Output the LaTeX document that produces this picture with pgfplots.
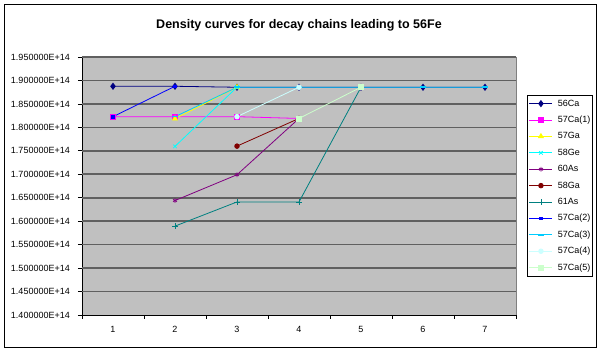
\documentclass[border=0pt]{standalone}
\usepackage{fontspec}
\setmainfont{Liberation Sans}
\usepackage{pgfplots}
\pgfplotsset{compat=1.18}
\definecolor{plotgray}{RGB}{192,192,192}
\definecolor{gridc}{RGB}{96,96,96}
\definecolor{cNavy}{RGB}{0,0,128}
\definecolor{cMag}{RGB}{255,0,255}
\definecolor{cYel}{RGB}{255,255,0}
\definecolor{cCyan}{RGB}{0,255,255}
\definecolor{cPurp}{RGB}{128,0,128}
\definecolor{cDRed}{RGB}{128,0,0}
\definecolor{cTeal}{RGB}{0,128,128}
\definecolor{cBlue}{RGB}{0,0,255}
\definecolor{cSky}{RGB}{0,204,255}
\definecolor{cPaleT}{RGB}{204,255,255}
\definecolor{cPaleG}{RGB}{204,255,204}
\begin{document}
\begin{tikzpicture}
\useasboundingbox (-82bp,-36bp) rectangle (518bp,315bp);
\begin{axis}[
  at={(0,0)}, anchor=south west,
  scale only axis, width=434bp, height=258bp,
  /pgf/number format/assume math mode=true,
  font=\fontsize{9bp}{10bp}\selectfont,
  xmin=0.5, xmax=7.5,
  ymin=1.40e14, ymax=1.95e14,
  scaled y ticks=false,
  axis background/.style={fill=plotgray},
  axis x line*=bottom, axis y line*=left,
  axis line style={black, line width=0.8bp},
  tick align=outside,
  major tick length=4bp,
  tick style={black, line width=0.8bp},
  xtick={1,2,3,4,5,6,7},
  xticklabels={1,2,3,4,5,6,7},
  major x tick style={draw=none},
  minor xtick={0.5,1.5,2.5,3.5,4.5,5.5,6.5,7.5},
  minor tick length=4bp,
  minor x tick style={black, line width=0.8bp},
  xticklabel style={anchor=base, inner sep=0pt, yshift=-13.2bp},
  ytick={1.40e14,1.45e14,1.50e14,1.55e14,1.60e14,1.65e14,1.70e14,1.75e14,1.80e14,1.85e14,1.90e14,1.95e14},
  yticklabels={1.400000E+14,1.450000E+14,1.500000E+14,1.550000E+14,1.600000E+14,1.650000E+14,1.700000E+14,1.750000E+14,1.800000E+14,1.850000E+14,1.900000E+14,1.950000E+14},
  yticklabel style={anchor=east, inner sep=0pt, xshift=-8bp},
  extra y ticks={1.45e14,1.50e14,1.55e14,1.60e14,1.65e14,1.70e14,1.75e14,1.80e14,1.85e14,1.90e14,1.95e14},
  extra y tick labels={},
  extra y tick style={tick align=inside, major tick length=434bp, tick style={gridc, line width=1.7bp}},
  clip=false,
  every axis title shift=0pt,
  title={Density curves for decay chains leading to 56Fe},
  title style={at={(0.5,1)}, anchor=center, yshift=31.8bp, font=\fontsize{12.5bp}{14bp}\selectfont\bfseries},
  every axis plot/.append style={line width=0.8bp, mark options={solid}},
  legend style={at={(1.025,0.853)}, anchor=north west, draw=black, fill=white,
    font=\fontsize{9bp}{10bp}\selectfont,
    inner xsep=2bp, inner ysep=4.5bp, row sep=8.4bp, /tikz/column sep=5bp,
    nodes={inner sep=0pt, text height=6.5bp, text depth=1.5bp}},
  legend cell align=left,
  legend image code/.code={\draw[mark repeat=2,mark phase=2] plot coordinates {(0bp,0bp)(11.5bp,0bp)(23bp,0bp)};},
]
% 56Ca
\addplot[cNavy, mark=diamond*, mark size=3bp] coordinates {(1,1.8876e14)(2,1.8876e14)(3,1.8855e14)(4,1.8855e14)(5,1.8855e14)(6,1.8855e14)(7,1.8855e14)};
\addlegendentry{56Ca}
% 57Ca(1)
\addplot[cMag, mark=square*, mark size=2.3bp] coordinates {(1,1.8228e14)(2,1.8228e14)(3,1.8228e14)(4,1.8190e14)};
\addlegendentry{57Ca(1)}
% 57Ga
\addplot[cYel, mark=triangle*, mark size=2.8bp] coordinates {(2,1.8185e14)(3,1.8855e14)};
\addlegendentry{57Ga}
% 58Ge
\addplot[cCyan, mark=x, mark size=2.5bp] coordinates {(2,1.7595e14)(3,1.8855e14)};
\addlegendentry{58Ge}
% 60As
\addplot[cPurp, mark=asterisk, mark size=2.3bp] coordinates {(2,1.6440e14)(3,1.6990e14)(4,1.8190e14)};
\addlegendentry{60As}
% 58Ga
\addplot[cDRed, mark=*, mark size=2.3bp] coordinates {(3,1.7600e14)(4,1.8190e14)};
\addlegendentry{58Ga}
% 61As
\addplot[cTeal, mark=+, mark size=2.8bp] coordinates {(2,1.5895e14)(3,1.6410e14)(4,1.6410e14)(5,1.8855e14)};
\addlegendentry{61As}
% 57Ca(2)
\addplot[cBlue, mark=square*, mark size=1.3bp] coordinates {(1,1.8228e14)(2,1.8876e14)};
\addlegendentry{57Ca(2)}
% 57Ca(3)
\addplot[cSky, mark=-, mark size=3bp, mark options={line width=1.6bp}] coordinates {(2,1.8228e14)(3,1.8855e14)(4,1.8855e14)(5,1.8855e14)(6,1.8855e14)(7,1.8855e14)};
\addlegendentry{57Ca(3)}
% 57Ca(4)
\addplot[cPaleT, mark=*, mark size=2.3bp] coordinates {(3,1.8228e14)(4,1.8855e14)};
\addlegendentry{57Ca(4)}
% 57Ca(5)
\addplot[cPaleG, mark=square*, mark size=2.5bp] coordinates {(4,1.8190e14)(5,1.8855e14)};
\addlegendentry{57Ca(5)}
\end{axis}
\draw[gray, line width=0.8bp] (434bp,0bp) -- (434bp,258bp);
\draw[black, line width=0.8bp] (-78bp,-32bp) rectangle (514bp,311bp);
\end{tikzpicture}
\end{document}
